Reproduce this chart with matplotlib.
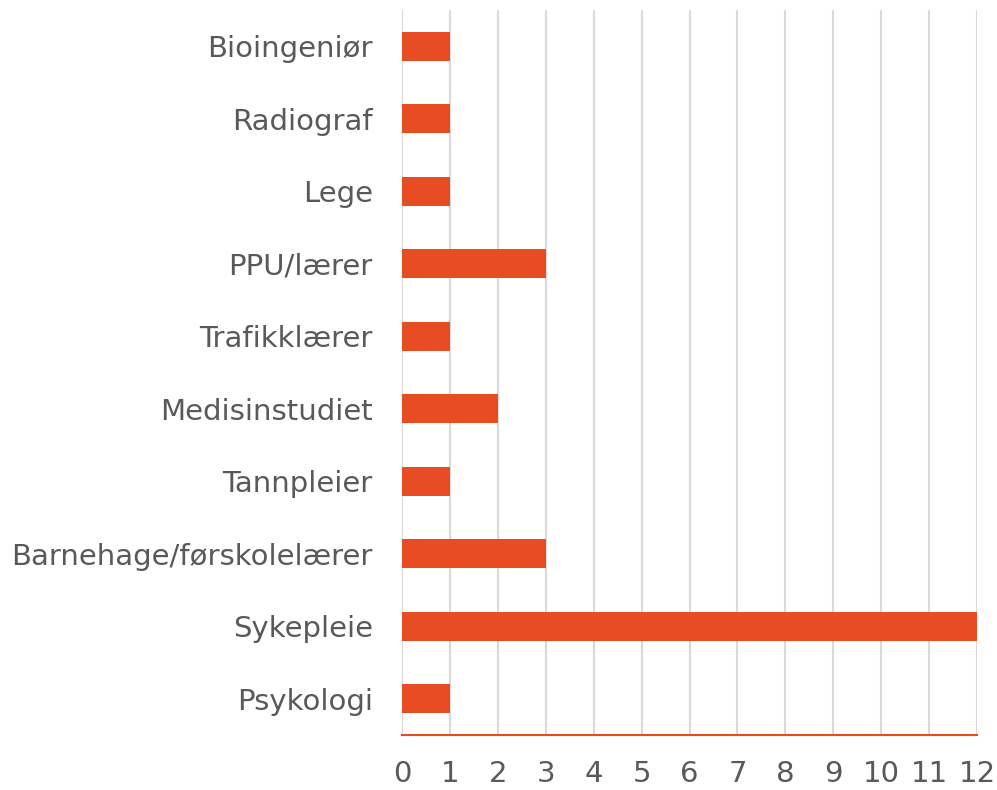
import matplotlib
matplotlib.use("Agg")
import matplotlib.pyplot as plt

categories = ["Bioingeniør", "Radiograf", "Lege", "PPU/lærer", "Trafikklærer",
              "Medisinstudiet", "Tannpleier", "Barnehage/førskolelærer",
              "Sykepleie", "Psykologi"]
values = [1, 1, 1, 3, 1, 2, 1, 3, 12, 1]
xticks = list(range(0, 13))

bar_color = "#E84C22"
text_color = "#595959"
grid_color = "#D9D9D9"

fig = plt.figure(figsize=(9.97, 7.9), dpi=100)
ax = fig.add_axes([402/997, 1 - 735/790, (977 - 402)/997, (735 - 10)/790])

# plot top-to-bottom in listed order
ypos = list(range(len(categories)))[::-1]
ax.barh(ypos, values, height=0.4, color=bar_color, zorder=3)

ax.set_xlim(0, 12)
ax.set_ylim(-0.5, len(categories) - 0.5)
ax.set_xticks(xticks)
ax.set_xticklabels([str(t) for t in xticks])
ax.set_yticks(ypos)
ax.set_yticklabels(categories)

ax.grid(axis="x", color=grid_color, linewidth=1.5, zorder=0)
ax.grid(axis="y", visible=False)
for s in ["top", "right", "left"]:
    ax.spines[s].set_visible(False)
ax.spines["bottom"].set_color(bar_color)
ax.spines["bottom"].set_linewidth(1.5)
ax.spines["bottom"].set_zorder(4)

ax.tick_params(axis="both", length=0, labelsize=21, labelcolor=text_color)
ax.tick_params(axis="x", pad=18)
ax.tick_params(axis="y", pad=21)

fig.savefig("out.png", dpi=100)
